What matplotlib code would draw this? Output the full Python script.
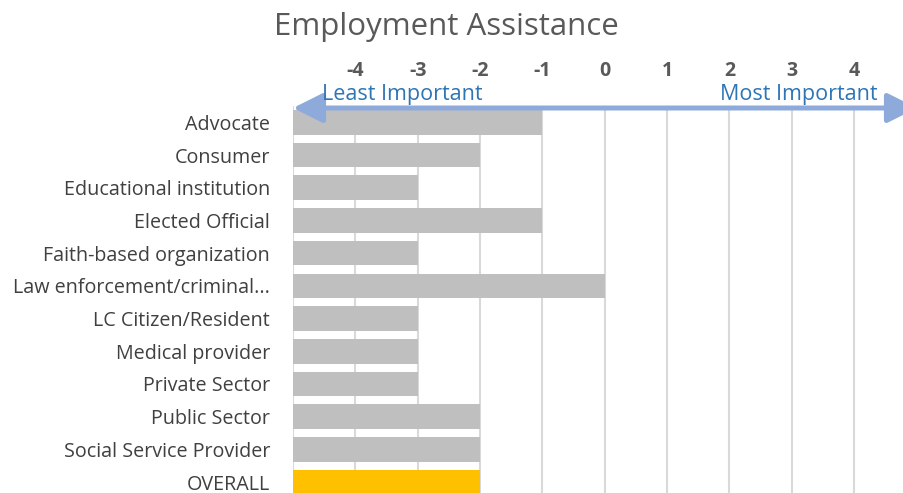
import matplotlib
matplotlib.use("Agg")
import matplotlib.pyplot as plt

categories = ["Advocate", "Consumer", "Educational institution", "Elected Official",
              "Faith-based organization", "Law enforcement/criminal...",
              "LC Citizen/Resident", "Medical provider", "Private Sector",
              "Public Sector", "Social Service Provider", "OVERALL"]
values = [-1, -2, -3, -1, -3, 0, -3, -3, -3, -2, -2, -2]
ticks = [-4, -3, -2, -1, 0, 1, 2, 3, 4]
base = -5

plt.rcParams["font.family"] = ["Open Sans", "DejaVu Sans"]

W, H = 904, 493
fig = plt.figure(figsize=(W / 100, H / 100), dpi=100)

# axes spans x from -5 (pixel 293) to the right edge, rows spaced ~32.7 px
left_px, right_px = 293, 904
top_px = 106
row_px = 32.7
unit_px = 62.35
n = len(categories)
bottom_px = top_px + n * row_px
ax = fig.add_axes([left_px / W, 1 - bottom_px / H, (right_px - left_px) / W,
                   (bottom_px - top_px) / H])


def px_to_x(px):
    return base + (px - left_px) / unit_px


def px_to_y(py):
    return (py - top_px) / row_px - 0.5


ypos = list(range(n))
colors = ["#bfbfbf"] * (n - 1) + ["#ffc000"]
widths = [v - base for v in values]
ax.barh(ypos, widths, left=base, height=0.75, color=colors, zorder=3)

ax.set_xlim(base, px_to_x(right_px))
ax.set_ylim(n - 0.5, -0.5)

ax.set_xticks([base] + ticks)
ax.set_xticklabels([""] + [str(t) for t in ticks])
ax.xaxis.tick_top()
ax.tick_params(axis="x", length=0, pad=18, labelsize=14, labelcolor="#595959")
for lab in ax.get_xticklabels():
    lab.set_fontweight("bold")
ax.grid(axis="x", color="#d9d9d9", linewidth=1.5, zorder=0)

ax.set_yticks(ypos)
ax.set_yticklabels(categories)
ax.tick_params(axis="y", length=0, pad=16.5, labelsize=14.2, labelcolor="#404040")

for s in ax.spines.values():
    s.set_visible(False)

# importance arrow across the top
arrow_y = px_to_y(108)
ax.annotate("", xy=(px_to_x(917), arrow_y), xytext=(base, arrow_y),
            arrowprops=dict(arrowstyle="<|-|>,head_length=1.8,head_width=0.9",
                            mutation_scale=10, color="#8eaadb", lw=3.6,
                            shrinkA=0, shrinkB=0),
            annotation_clip=False, zorder=5)
ax.text(px_to_x(322), px_to_y(100), "Least Important", color="#2e75b6",
        fontsize=15.5, ha="left", va="baseline", zorder=6)
ax.text(px_to_x(878), px_to_y(100), "Most Important", color="#2e75b6",
        fontsize=15.5, ha="right", va="baseline", zorder=6)

fig.text(446 / W, 1 - 27 / H, "Employment Assistance", ha="center", va="center",
         fontsize=22.5, color="#595959")

fig.savefig("out.png", dpi=100)
